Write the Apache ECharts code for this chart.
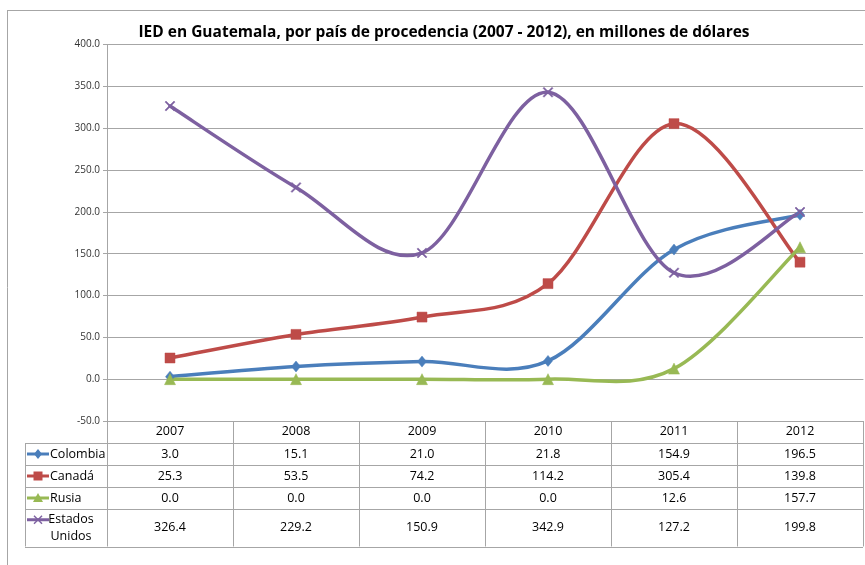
<!DOCTYPE html>
<html>
<head>
<meta charset="utf-8"/>
<title>IED en Guatemala</title>
<script src="https://cdn.jsdelivr.net/npm/echarts@6/dist/echarts.min.js"></script>
<style>
    html, body { margin: 0; padding: 0; background: #fff; }
    #main { width: 865px; height: 565px; }
</style>
</head>
<body>
<div id="main"></div>
<script>
    // datos (millones de dólares)
    var years = ['2007', '2008', '2009', '2010', '2011', '2012'];
    var colombia = [3.0, 15.1, 21.0, 21.8, 154.9, 196.5];
    var canada = [25.3, 53.5, 74.2, 114.2, 305.4, 139.8];
    var rusia = [0.0, 0.0, 0.0, 0.0, 12.6, 157.7];
    var eeuu = [326.4, 229.2, 150.9, 342.9, 127.2, 199.8];
    var seriesNames = ['Colombia', 'Canadá', 'Rusia', 'Estados Unidos'];
    var rowLabels = ['Colombia', 'Canadá', 'Rusia', 'Estados\nUnidos'];

    var font = "'Open Sans', sans-serif";
    var colors = ['#4a7ebb', '#be4b48', '#98b954', '#7d60a0'];
    var xPath = 'path://M0,1L1,0L5,4L9,0L10,1L6,5L10,9L9,10L5,6L1,10L0,9L4,5Z';
    var symbols = ['diamond', 'rect', 'triangle', xPath];
    var symbolSizes = [[9, 11], 10, 11, 10];
    var allData = [colombia, canada, rusia, eeuu];

    var myChart = echarts.init(document.getElementById('main'));

    // curva suavizada tipo Excel: un tramo bezier por punto
    function smoothRender(values, color) {
        return function (params, api) {
            var i = params.dataIndex;
            if (i >= values.length - 1) return null;
            var p = function (k) {
                k = Math.max(0, Math.min(values.length - 1, k));
                return api.coord([k, values[k]]);
            };
            var p0 = p(i - 1), p1 = p(i), p2 = p(i + 1), p3 = p(i + 2);
            return {
                type: 'bezierCurve',
                shape: {
                    x1: p1[0], y1: p1[1],
                    cpx1: p1[0] + (p2[0] - p0[0]) / 6, cpy1: p1[1] + (p2[1] - p0[1]) / 6,
                    cpx2: p2[0] - (p3[0] - p1[0]) / 6, cpy2: p2[1] - (p3[1] - p1[1]) / 6,
                    x2: p2[0], y2: p2[1]
                },
                style: { stroke: color, lineWidth: 3.5, fill: null, lineCap: 'round' },
                silent: true
            };
        };
    }

    var series = [];
    for (var i = 0; i < allData.length; i++) {
        series.push({
            name: seriesNames[i] + ' curva',
            type: 'custom',
            renderItem: smoothRender(allData[i], colors[i]),
            data: allData[i].map(function (v, k) { return [k, v]; }),
            encode: { x: 0, y: 1 },
            z: 2
        });
    }
    for (var i = 0; i < allData.length; i++) {
        series.push({
            name: seriesNames[i],
            type: 'line',
            data: allData[i],
            symbol: symbols[i],
            symbolSize: symbolSizes[i],
            showAllSymbol: true,
            lineStyle: { width: 0, opacity: 0 },
            itemStyle: { color: colors[i], borderColor: colors[i], borderWidth: 0.5 },
            emphasis: { disabled: true },
            z: 3
        });
    }

    var option = {
        animation: false,
        backgroundColor: '#fff',
        title: {
            text: 'IED en Guatemala, por país de procedencia (2007 - 2012), en millones de dólares',
            left: 439,
            top: 20,
            textAlign: 'center',
            textStyle: { fontFamily: font, fontSize: 15.5, fontWeight: 'bold', color: '#000' }
        },
        grid: { left: 107, right: 2, top: 44.5, bottom: 144, containLabel: false },
        xAxis: {
            type: 'category',
            data: years,
            boundaryGap: true,
            axisLine: { lineStyle: { color: '#a6a6a6', width: 1 } },
            axisTick: { show: false },
            axisLabel: { margin: 4, fontFamily: font, fontSize: 12.5, color: '#000' },
            splitLine: { show: false }
        },
        yAxis: {
            type: 'value',
            min: -50,
            max: 400,
            interval: 50,
            axisLine: { show: true, lineStyle: { color: '#a6a6a6', width: 1 } },
            axisTick: { show: true, length: 4, lineStyle: { color: '#a6a6a6' } },
            axisLabel: {
                margin: 7, fontFamily: font, fontSize: 10, color: '#333',
                formatter: function (v) { return v.toFixed(1); }
            },
            splitLine: { lineStyle: { color: '#a6a6a6', width: 1 } }
        },
        series: series
    };
    myChart.setOption(option);

    // tabla de datos bajo el gráfico
    (function () {
        var c0 = myChart.convertToPixel({ xAxisIndex: 0 }, years[0]);
        var c1 = myChart.convertToPixel({ xAxisIndex: 0 }, years[1]);
        var colW = c1 - c0;
        var tLeft = c0 - colW / 2;
        var tRight = tLeft + colW * years.length;
        var tTop = myChart.convertToPixel({ yAxisIndex: 0 }, -50);
        var legendLeft = 25;
        var rowH = [22, 22, 22, 22, 37.5];
        var lineColor = '#a6a6a6';
        var g = [];

        var rowY = [tTop];
        for (var r = 0; r < rowH.length; r++) rowY.push(rowY[r] + rowH[r]);
        var tBottom = rowY[rowY.length - 1];

        function hline(x1, x2, y) {
            g.push({ type: 'line', shape: { x1: x1, y1: y, x2: x2, y2: y }, style: { stroke: lineColor, lineWidth: 1 }, silent: true });
        }
        function vline(x, y1, y2) {
            g.push({ type: 'line', shape: { x1: x, y1: y1, x2: x, y2: y2 }, style: { stroke: lineColor, lineWidth: 1 }, silent: true });
        }

        for (var r = 1; r < rowY.length; r++) hline(legendLeft, tRight, Math.round(rowY[r]) + 0.5);
        vline(legendLeft + 0.5, rowY[1], tBottom);
        for (var k = 0; k <= years.length; k++) vline(Math.round(tLeft + k * colW) + 0.5, tTop, tBottom);

        // marco de la página
        vline(7.5, 10, 565);
        hline(7, 865, 10.5);

        for (var s = 0; s < allData.length; s++) {
            var cy = (rowY[s + 1] + rowY[s + 2]) / 2;
            var col = colors[s];
            var my = cy - (s == 3 ? 8 : 0);
            // icono de leyenda
            g.push({ type: 'line', shape: { x1: 27, y1: my, x2: 49, y2: my }, style: { stroke: col, lineWidth: 3 }, silent: true });
            if (s == 0) {
                g.push({ type: 'polygon', shape: { points: [[38, my - 5], [42, my], [38, my + 5], [34, my]] }, style: { fill: col }, silent: true });
            } else if (s == 1) {
                g.push({ type: 'rect', shape: { x: 33.5, y: my - 4.5, width: 9, height: 9 }, style: { fill: col }, silent: true });
            } else if (s == 2) {
                g.push({ type: 'polygon', shape: { points: [[38, my - 5], [43, my + 4], [33, my + 4]] }, style: { fill: col }, silent: true });
            } else {
                g.push({ type: 'polyline', shape: { points: [[34, my - 4], [42, my + 4]] }, style: { stroke: col, lineWidth: 1.5 }, silent: true });
                g.push({ type: 'polyline', shape: { points: [[34, my + 4], [42, my - 4]] }, style: { stroke: col, lineWidth: 1.5 }, silent: true });
            }
            g.push({
                type: 'text', silent: true,
                x: s == 3 ? 71 : 50, y: cy,
                style: {
                    text: rowLabels[s], font: '12.5px ' + font, fill: '#000',
                    align: s == 3 ? 'center' : 'left', verticalAlign: 'middle', lineHeight: 17
                }
            });
            for (var k = 0; k < years.length; k++) {
                g.push({
                    type: 'text', silent: true,
                    x: tLeft + (k + 0.5) * colW, y: cy,
                    style: {
                        text: allData[s][k].toFixed(1), font: '12.5px ' + font, fill: '#000',
                        align: 'center', verticalAlign: 'middle'
                    }
                });
            }
        }

        myChart.setOption({ graphic: { elements: g } });
    })();
</script>
</body>
</html>
